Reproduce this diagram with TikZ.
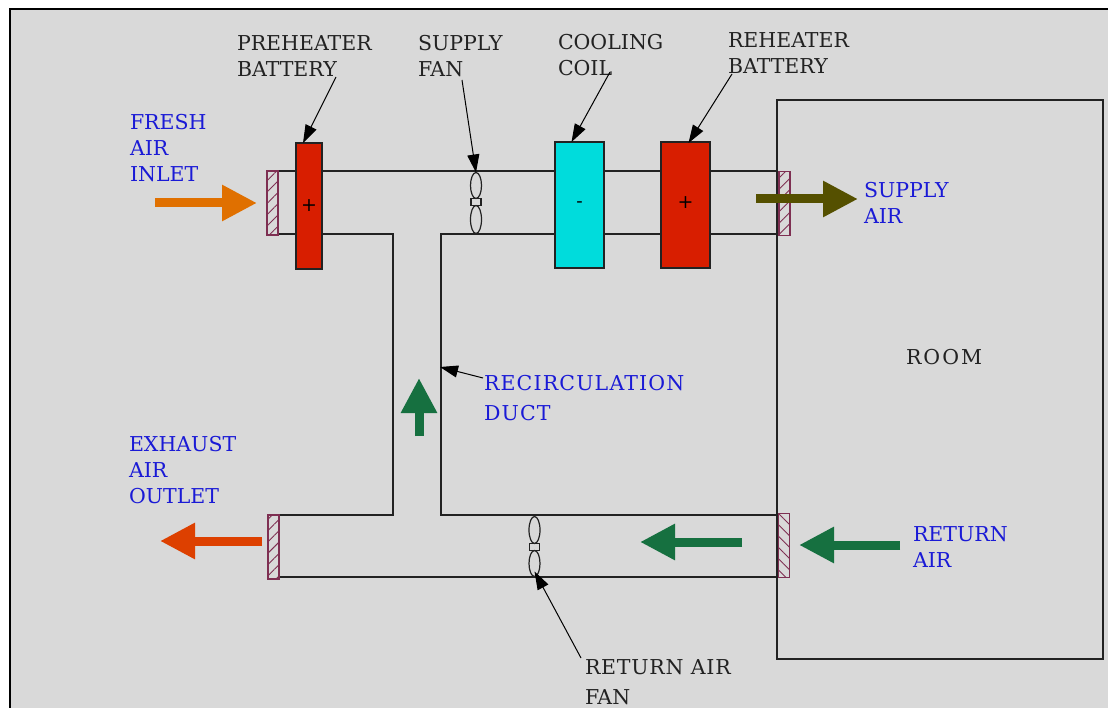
\documentclass[tikz,border=0pt]{standalone}
\usepackage{fontspec}
\setmainfont{DejaVu Serif}
\usetikzlibrary{arrows.meta,positioning,patterns.meta,shapes.geometric}

\definecolor{panelgrey}{HTML}{D9D9D9}
\definecolor{heatred}{HTML}{D81E00}
\definecolor{coolcyan}{HTML}{00DCDC}
\definecolor{damperred}{HTML}{7E2F52}
\definecolor{inkblue}{HTML}{1A1AD6}
\definecolor{inkdark}{HTML}{222222}
\definecolor{airorange}{HTML}{E07000}
\definecolor{airolive}{HTML}{555000}
\definecolor{airgreen}{HTML}{167040}
\definecolor{airrust}{HTML}{DD4000}

\begin{document}
\begin{tikzpicture}[x=1pt,y=-1pt,>=Latex,node distance=57pt]
  \tikzstyle{duct}=[draw=inkdark,line width=1.6pt]
  \tikzstyle{battery}=[draw=inkdark,line width=1.2pt,minimum height=126pt,inner sep=0pt,outer sep=0pt,font=\fontsize{19}{22}\selectfont]
  \tikzstyle{damperup}=[draw=damperred,line width=1.3pt,minimum width=11pt,minimum height=64pt,inner sep=0pt,outer sep=0pt,
    pattern={Lines[angle=45,distance=8pt,line width=.9pt]},pattern color=damperred]
  \tikzstyle{damperdown}=[damperup,pattern={Lines[angle=-45,distance=8pt,line width=.9pt]}]
  \tikzstyle{blade}=[draw=inkdark,line width=1.2pt,ellipse,minimum width=11pt,inner sep=0pt,outer sep=0pt]
  \tikzstyle{neck}=[draw=inkdark,line width=1.2pt,minimum width=10pt,minimum height=7pt,inner sep=0pt,outer sep=0pt]
  \tikzstyle{label}=[anchor=north west,align=left,inner sep=0pt,outer sep=0pt,text=inkdark,font=\fontsize{20.5}{26}\selectfont]
  \tikzstyle{airlabel}=[label,text=inkblue]
  \tikzstyle{pointer}=[-{Triangle[length=18pt,width=12pt]},draw=black,line width=1pt]
  \tikzstyle{airflow}=[line width=9pt]
  \tikzstyle{airtip}=[-{Triangle[length=35pt,width=34pt]}]
  \useasboundingbox (0,0) rectangle (1108,708);
  \fill[panelgrey] (10,9) rectangle (1108,708);
  \draw[black,line width=2.5pt] (10,708) -- (10,9) -- (1108,9);
  % room and duct corners
  \node[draw=inkdark,line width=1.6pt,minimum width=326pt,minimum height=559pt,inner sep=0pt,outer sep=0pt] (room) at (940,379.5) {};
  \coordinate (topleft) at (279,171);
  \coordinate (topright) at (778,171);
  \coordinate (midleft) at (279,234);
  \coordinate (midright) at (778,234);
  \coordinate (riserleft) at (393,234);
  \coordinate (riserright) at (441,234);
  \coordinate (footleft) at (393,515);
  \coordinate (footright) at (441,515);
  \coordinate (exhtop) at (280,515);
  \coordinate (rettop) at (778,515);
  \coordinate (exhbot) at (280,577);
  \coordinate (retbot) at (778,577);
  \draw[duct] (topleft) -- (topright);
  \draw[duct] (midleft) -- (riserleft) -- (footleft) -- (exhtop);
  \draw[duct] (midright) -- (riserright) -- (footright) -- (rettop);
  \draw[duct] (exhbot) -- (retbot);
  % dampers
  \node[damperup] (inlet) at (272.5,203) {};
  \node[damperup] (supply) at (784.5,203.5) {};
  \node[damperup] (exhaust) at (273.5,547) {};
  \node[damperdown] (return) at (784,545.5) {};
  % batteries
  \node[battery,fill=heatred,minimum width=26pt] (preheat) at (309,206) {\raisebox{1pt}{+}};
  \node[battery,fill=coolcyan,minimum width=49pt] (cool) at (579.5,205) {-};
  \node[battery,fill=heatred,minimum width=49pt,right=57pt of cool] (reheat) {\raisebox{5pt}{+}};
  % fans
  \node[neck] (supplyneck) at (476,202) {};
  \node[blade,minimum height=26pt,above=0pt of supplyneck] (supplyup) {};
  \node[blade,minimum height=28pt,below=0pt of supplyneck] (supplydown) {};
  \node[neck] (returnneck) at (534.5,547) {};
  \node[blade,minimum height=27pt,above=0pt of returnneck] (returnup) {};
  \node[blade,minimum height=26pt,below=0pt of returnneck] (returndown) {};
  % black labels
  \node[label] (preheatlabel) at (237,36) {PREHEATER\\BATTERY};
  \node[label] (supplyfanlabel) at (418,35) {SUPPLY\\FAN};
  \node[label] (coollabel) at (558,34) {COOLING\\COIL};
  \node[label] (reheatlabel) at (728,33) {REHEATER\\BATTERY};
  \node[label] (roomlabel) at (906,349) {\addfontfeatures{LetterSpace=10}ROOM};
  \node[airlabel] (ductlabel) at (484,375) {\addfontfeatures{LetterSpace=5.7}RECIRCULATION\\[4pt]\addfontfeatures{LetterSpace=5.7}DUCT};
  \node[label] (retfanlabel) at (585,660) {\addfontfeatures{LetterSpace=3.8}RETURN AIR\\[4pt]FAN};
  % blue labels
  \node[airlabel] (freshlabel) at (130,114) {FRESH\\AIR\\INLET};
  \node[airlabel] (supplylabel) at (864,182) {SUPPLY\\AIR};
  \node[airlabel] (exhaustlabel) at (129,436) {EXHAUST\\AIR\\OUTLET};
  \node[airlabel] (returnlabel) at (913,527) {RETURN\\AIR};
  % pointers
  \coordinate (preheatfrom) at (336,77);
  \coordinate (supplyfanfrom) at (462,80);
  \coordinate (coolfrom) at (610,72);
  \coordinate (reheatfrom) at (732,74);
  \coordinate (ductfrom) at (483,378);
  \coordinate (ductat) at (440,367);
  \coordinate (retfanfrom) at (581,658);
  \draw[pointer] (preheatfrom) -- ([xshift=-6pt]preheat.north);
  \draw[pointer] (supplyfanfrom) -- (supplyup.north);
  \draw[pointer] (coolfrom) -- ([xshift=-8pt]cool.north);
  \draw[pointer] (reheatfrom) -- ([xshift=3pt,yshift=-1pt]reheat.north);
  \draw[pointer] (ductfrom) -- (ductat);
  \draw[pointer] (retfanfrom) -- ([yshift=5pt]returndown.south);
  % air flow
  \coordinate (freshtail) at (155,203);
  \coordinate (freshtip) at (257,203);
  \coordinate (supplytail) at (756,199);
  \coordinate (supplytip) at (858,199);
  \coordinate (risertail) at (419,436);
  \coordinate (risertip) at (419,378);
  \coordinate (exhausttail) at (262,541);
  \coordinate (exhausttip) at (160,541);
  \coordinate (retintail) at (742,542);
  \coordinate (retintip) at (640,542);
  \coordinate (retouttail) at (900,545);
  \coordinate (retouttip) at (799,545);
  \draw[airflow,airtip,draw=airorange] (freshtail) -- (freshtip);
  \draw[airflow,airtip,draw=airolive] (supplytail) -- (supplytip);
  \draw[airflow,airtip,draw=airgreen] (risertail) -- (risertip);
  \draw[airflow,airtip,draw=airrust] (exhausttail) -- (exhausttip);
  \draw[airflow,airtip,draw=airgreen] (retintail) -- (retintip);
  \draw[airflow,airtip,draw=airgreen] (retouttail) -- (retouttip);
\end{tikzpicture}
\end{document}
